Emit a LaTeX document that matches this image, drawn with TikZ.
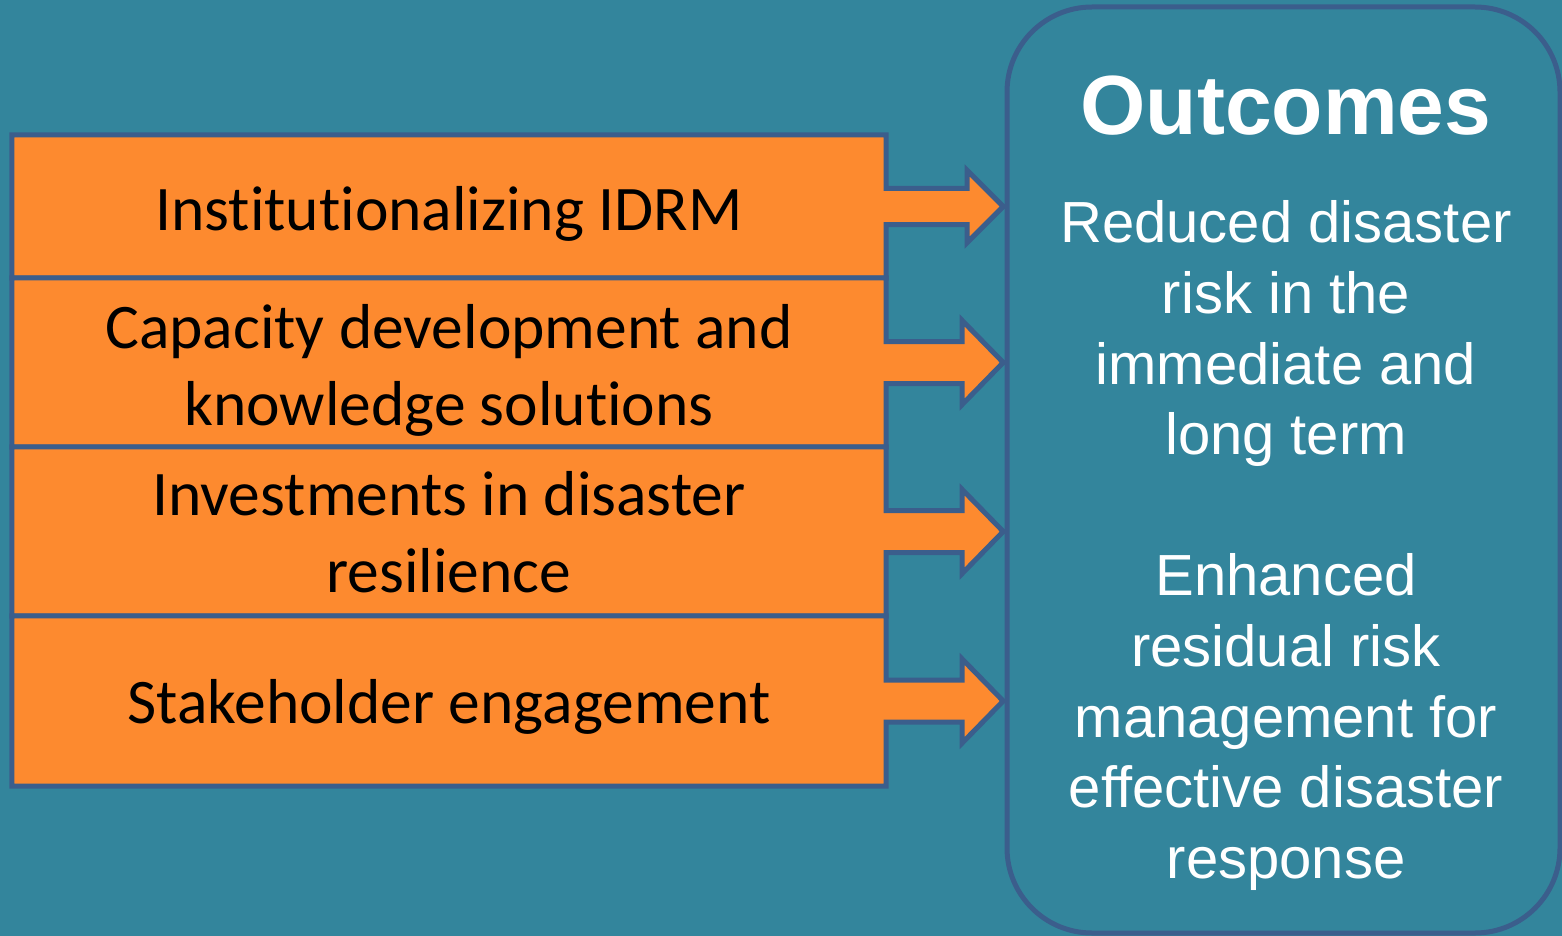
\documentclass[tikz,border=0pt]{standalone}
\usepackage{fontspec}
\setmainfont{Liberation Sans}
\newfontfamily\calfont[Ligatures=NoCommon]{Carlito}
\usetikzlibrary{backgrounds,calc}
\definecolor{bgteal}{HTML}{33859C}
\definecolor{edgeblue}{HTML}{3B5E8C}
\definecolor{boxorange}{HTML}{FD8A2F}
\tikzset{
  rowbox/.style={rectangle, inner sep=0pt, minimum width=874pt},
  rowtext/.style={inner sep=0pt, align=center,
    font=\calfont\fontsize{63.5}{77}\selectfont, text=black},
  rowline/.style={fill=boxorange, draw=edgeblue, line width=5pt, line join=miter},
  outbox/.style={rectangle, draw=edgeblue, line width=5pt, rounded corners=85pt,
    minimum width=553pt, minimum height=926pt, inner sep=0pt},
  outtitle/.style={font=\bfseries\fontsize{84}{96}\selectfont, text=white, inner sep=0pt},
  outtext/.style={font=\fontsize{58}{70.6}\selectfont, text=white, align=center, inner sep=0pt},
}
\newcommand\rowarrow[4]{%
  \path[rowline] (#1.north west) -- (#1.north east) -- ([yshift=#2pt]#1.east)
    -- ([xshift=#4pt,yshift=#2pt]#1.east) -- ([xshift=#4pt,yshift=#3pt]#1.east)
    -- ([xshift=117pt]#1.east)
    -- ([xshift=#4pt,yshift=-#3pt]#1.east) -- ([xshift=#4pt,yshift=-#2pt]#1.east)
    -- ([yshift=-#2pt]#1.east) -- (#1.south east) -- (#1.south west) -- cycle;}
\begin{document}
\begin{tikzpicture}[x=1pt,y=-1pt]
\useasboundingbox (0,0) rectangle (1562,936);
\node[rowbox, minimum height=143pt] (r1) at (449,206.5) {};
\node[rowbox, minimum height=169pt] (r2) at (449,362.5) {};
\node[rowbox, minimum height=169pt] (r3) at (449,531.5) {};
\node[rowbox, minimum height=170pt] (r4) at (449,701) {};
\node[rowtext] (t1) at ([yshift=-7pt]r1.center) {Institutionalizing IDRM};
\node[rowtext] (t2) at ([yshift=-8pt]r2.center) {Capacity development and\\knowledge solutions};
\node[rowtext] (t3) at ([yshift=-1pt]r3.center) {Investments in disaster\\resilience};
\node[rowtext] (t4) at ([yshift=-6pt]r4.center) {Stakeholder engagement};
\node[outbox] (outc) at (1283.5,470) {};
\node[outtitle, anchor=base] (title) at (1286,135) {Outcomes};
\node[outtext, anchor=north] (o1) at (1286,200.7) {Reduced disaster\\risk in the\\immediate and\\long term};
\node[outtext, anchor=north] (o2) at (1286,553.7) {Enhanced\\residual risk\\management for\\effective disaster\\response};
\begin{pgfonlayer}{background}
  \fill[bgteal] (0,0) rectangle (1562,936);
  \rowarrow{r1}{18}{36}{81}
  \rowarrow{r2}{21}{42}{76}
  \rowarrow{r3}{21}{42}{76}
  \rowarrow{r4}{21}{42}{76}
\end{pgfonlayer}
\end{tikzpicture}
\end{document}
